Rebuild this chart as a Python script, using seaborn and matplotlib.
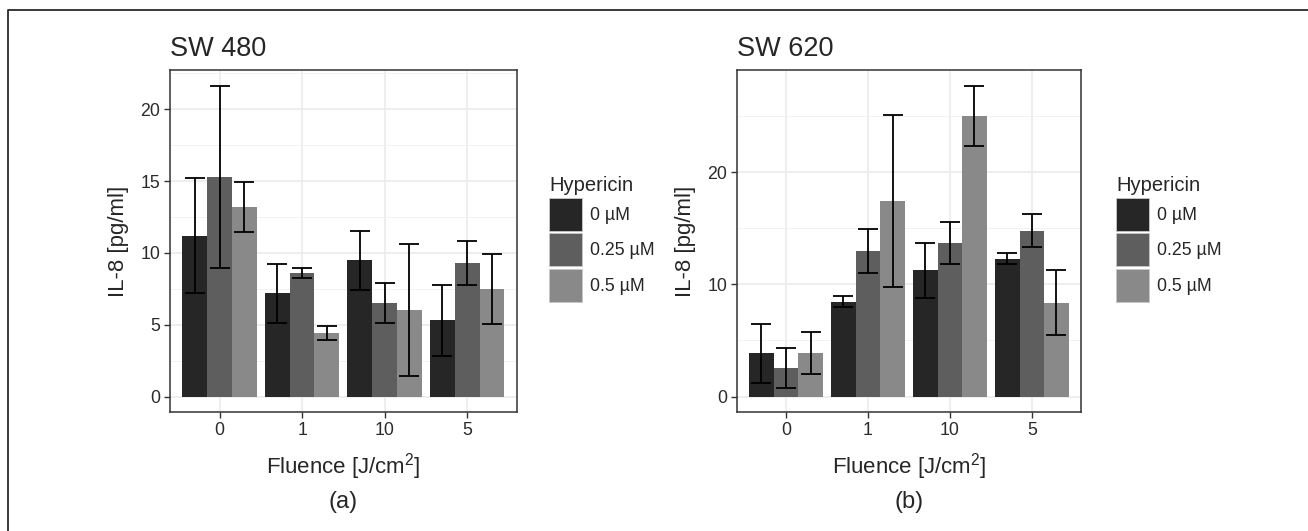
import seaborn as sns
import pandas as pd
import matplotlib.pyplot as plt
import numpy as np
from matplotlib.patches import Patch
from matplotlib.lines import Line2D

fluence = ['0', '1', '10', '5']
hypericin = ['0 µM', '0.25 µM', '0.5 µM']
colors = ['#262626', '#5e5e5e', '#898989']

# SW 480 - mean IL-8 per fluence, one list per hypericin dose
sw480_h0 = [11.2, 7.2, 9.5, 5.3]
sw480_h025 = [15.3, 8.6, 6.5, 9.3]
sw480_h05 = [13.2, 4.45, 6.0, 7.5]
sw480_sd_h0 = [4.0, 2.05, 2.05, 2.5]
sw480_sd_h025 = [6.35, 0.33, 1.4, 1.55]
sw480_sd_h05 = [1.75, 0.48, 4.6, 2.45]

# SW 620
sw620_h0 = [3.85, 8.45, 11.25, 12.3]
sw620_h025 = [2.55, 13.0, 13.7, 14.8]
sw620_h05 = [3.9, 17.45, 25.05, 8.35]
sw620_sd_h0 = [2.6, 0.48, 2.45, 0.48]
sw620_sd_h025 = [1.8, 1.95, 1.9, 1.45]
sw620_sd_h05 = [1.9, 7.7, 2.7, 2.9]


def make_df(means, sds):
    rows = []
    for h, m, s in zip(hypericin, means, sds):
        for f, mv, sv in zip(fluence, m, s):
            rows.append({'Fluence': f, 'Hypericin': h, 'IL8': mv, 'sd': sv})
    return pd.DataFrame(rows)


df480 = make_df([sw480_h0, sw480_h025, sw480_h05], [sw480_sd_h0, sw480_sd_h025, sw480_sd_h05])
df620 = make_df([sw620_h0, sw620_h025, sw620_h05], [sw620_sd_h0, sw620_sd_h025, sw620_sd_h05])

sns.set_theme(style='white')
plt.rcParams['font.family'] = ['Liberation Sans', 'DejaVu Sans']
plt.rcParams['mathtext.default'] = 'regular'

fig = plt.figure(figsize=(13.08, 5.31), dpi=100)
ax1 = fig.add_axes([0.130, 0.224, 0.265, 0.644])
ax2 = fig.add_axes([0.5634, 0.224, 0.263, 0.644])


def panel(ax, df, title, major, minor, tag, legend_x):
    sns.barplot(data=df, x='Fluence', y='IL8', hue='Hypericin', order=fluence,
                hue_order=hypericin, palette=colors, width=0.9, saturation=1,
                errorbar=None, legend=False, ax=ax, zorder=2)
    for cont, h in zip(ax.containers, hypericin):
        sub = df[df.Hypericin == h].set_index('Fluence').loc[fluence]
        xs = [b.get_x() + b.get_width() / 2 for b in cont]
        ax.errorbar(xs, sub['IL8'], yerr=sub['sd'], fmt='none', ecolor='black',
                    elinewidth=1.3, capsize=7.5, capthick=1.3, zorder=3)
    for b in ax.patches:
        b.set_edgecolor('none')
    top = (df['IL8'] + df['sd']).max()
    ax.set_ylim(-0.05 * top, top * 1.05)
    ax.set_xlim(-0.6, 3.6)
    ax.set_yticks(major)
    ax.set_yticks(minor, minor=True)
    ax.grid(True, which='major', color='#ebebeb', linewidth=1.2, zorder=0)
    ax.grid(True, which='minor', color='#f2f2f2', linewidth=0.7, zorder=0)
    ax.set_axisbelow(True)
    for s in ax.spines.values():
        s.set_color('#333333')
        s.set_linewidth(1.1)
    ax.tick_params(axis='both', which='major', length=4, width=1, color='#333333',
                   labelsize=12.8, labelcolor='#2b2b2b', pad=3, left=True, bottom=True)
    ax.tick_params(axis='both', which='minor', length=0)
    ax.set_xlabel('Fluence [J/cm$^2$]', fontsize=16, labelpad=9)
    ax.set_ylabel('IL-8 [pg/ml]', fontsize=16, labelpad=8)
    ax.set_title(title, loc='left', fontsize=19.5, pad=10)
    pos = ax.get_position()
    fig.text((pos.x0 + pos.x1) / 2, 1 - 502 / 531, tag, ha='center', va='center', fontsize=17)
    handles = [Patch(facecolor=c, edgecolor='#c8c8c8', linewidth=0.6) for c in colors]
    leg = ax.legend(handles, hypericin, title='Hypericin', loc='upper left',
                    bbox_to_anchor=(legend_x, 1 - 176 / 531), bbox_transform=fig.transFigure,
                    frameon=False, fontsize=12.8, title_fontsize=14.5,
                    handlelength=1.85, handleheight=2.48, labelspacing=0.15,
                    handletextpad=0.45, borderaxespad=0, borderpad=0)
    leg._legend_box.align = 'left'


panel(ax1, df480, 'SW 480', [0, 5, 10, 15, 20], [2.5, 7.5, 12.5, 17.5, 22.5], '(a)', 549 / 1308)
panel(ax2, df620, 'SW 620', [0, 10, 20], [5, 15, 25], '(b)', 1116 / 1308)

# outer frame (top and left edges visible in the original)
fig.add_artist(Line2D([8 / 1308, 8 / 1308, 1.0], [0.0, 1 - 10 / 531, 1 - 10 / 531],
                      transform=fig.transFigure, color='#2a2a2a', linewidth=1.3))

fig.savefig('out.png', dpi=100)
